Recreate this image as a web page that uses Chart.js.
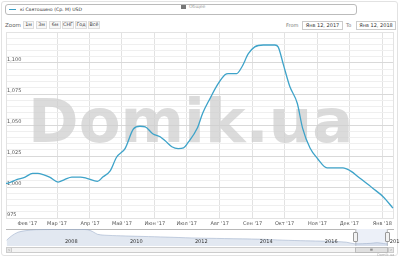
<!DOCTYPE html>
<html>
<head>
<meta charset="utf-8">
<script src="https://cdn.jsdelivr.net/npm/chart.js@4.4.1/dist/chart.umd.min.js"></script>
<style>
  body { margin: 0; width: 400px; height: 258px; overflow: hidden; background: #fff; position: relative; font-family: "DejaVu Sans", sans-serif; color: #333; }
  .abs { position: absolute; box-sizing: border-box; }
  #frame { left: 1px; top: 1px; width: 397px; height: 255px; border: 1px solid #e2e2e2; border-radius: 3px; }
  #legend { left: 5px; top: 4px; width: 352px; height: 11px; border: 1px solid #bbb; border-radius: 3px; font-size: 4.6px; }
  #legend .sym { position: absolute; left: 3px; top: 4px; width: 7px; height: 1.4px; background: #3b9fc6; }
  #legend .t1 { position: absolute; left: 14px; top: 2px; }
  #legend .sq { position: absolute; left: 175px; top: 0px; width: 5px; height: 4px; background: #777; }
  #legend .t2 { position: absolute; left: 183px; top: -1px; color: #999; }
  #zoomlbl { left: 5px; top: 21.5px; font-size: 5.5px; color: #666; }
  .btn { top: 20.5px; height: 8px; font-size: 4.8px; background: #f7f7f7; border: 1px solid #ddd; text-align: center; line-height: 6px; color: #333; }
  .inp { top: 20.5px; height: 9px; font-size: 5px; border: 1px solid #ccc; text-align: center; line-height: 7px; color: #333; }
  .lbl { top: 22px; font-size: 5px; color: #777; }
  #mainWrap { left: 0; top: 28px; width: 400px; height: 202px; }
  #navWrap { left: 0; top: 227px; width: 400px; height: 30px; }
  .handle { width: 5px; height: 10px; background: #f2f2f2; border: 1px solid #999; border-radius: 1px; }
  #track { left: 6px; top: 246.5px; width: 388px; height: 6px; border: 1px solid #ccc; background: #f4f4f4; }
  .arr { top: 246.5px; width: 6px; height: 6px; border: 1px solid #ccc; background: #e6e6e6; font-size: 4px; line-height: 4px; text-align: center; color: #666; }
  #thumb { left: 355px; top: 246.5px; width: 33px; height: 6px; border: 1px solid #bbb; background: #e0e0e0; font-size: 4px; line-height: 4px; text-align: center; color: #777; }
  #credit { left: 377px; top: 253px; font-size: 3.6px; color: #aaa; }
</style>
</head>
<body>
<div id="frame" class="abs"></div>
<div id="legend" class="abs"><div class="sym"></div><div class="t1">кі Святошино (Ср. М) USD</div><div class="sq"></div><div class="t2">Общее</div></div>
<div id="zoomlbl" class="abs">Zoom</div>
<div class="abs btn" style="left:23px;width:11px">1м</div>
<div class="abs btn" style="left:36px;width:11px">3м</div>
<div class="abs btn" style="left:49px;width:12px">6м</div>
<div class="abs btn" style="left:62px;width:12px">СНГ</div>
<div class="abs btn" style="left:75px;width:12px">Год</div>
<div class="abs btn" style="left:88px;width:12px">Всё</div>
<div class="abs lbl" style="left:286px">From</div>
<div class="abs inp" style="left:302px;width:41px">Янв 12, 2017</div>
<div class="abs lbl" style="left:346px">To</div>
<div class="abs inp" style="left:356px;width:40px">Янв 12, 2018</div>
<div id="mainWrap" class="abs"><canvas id="main"></canvas></div>
<div id="track" class="abs"></div>
<div class="abs arr" style="left:6px">‹</div>
<div class="abs arr" style="left:388px">›</div>
<div id="thumb" class="abs">≡</div>
<div id="navWrap" class="abs"><canvas id="nav"></canvas></div>
<div class="abs handle" style="left:353px;top:232px"></div>
<div class="abs handle" style="left:385px;top:232px"></div>
<div id="credit" class="abs">Domik.ua</div>

<script>
// days counted from Jan 12, 2017
const dayNums = [0, 1, 10, 18, 25, 30, 35, 41, 49, 55, 62, 70, 76, 86, 91, 98, 104, 112, 120, 126, 131, 138, 145, 150, 156, 162, 167, 171, 180, 185, 192, 199, 206, 209, 217, 222, 228, 234, 242, 253, 256, 261, 267, 274, 279, 286, 293, 302, 311, 317, 324, 333, 345, 355, 364];
const prices = [1003, 1003, 1006, 1008, 1011, 1011, 1010, 1008, 1004, 1006, 1008, 1008, 1007, 1004.5, 1008, 1013, 1024, 1031, 1047, 1049, 1048.5, 1043, 1040.5, 1037, 1032.5, 1031, 1031.5, 1035.5, 1047.5, 1059.5, 1071.5, 1082.5, 1090.5, 1091.5, 1091.5, 1097, 1107.5, 1113, 1114.5, 1114.5, 1113, 1098.5, 1081, 1067.5, 1047.5, 1031.5, 1023, 1015.5, 1015.5, 1015.5, 1013, 1007, 999, 992, 983];

const monthDays = [20, 48, 79, 109, 140, 170, 201, 232, 262, 293, 323, 354];
const monthLabels = ["Фев '17", "Мар '17", "Апр '17", "Май '17", "Июн '17", "Июл '17", "Авг '17", "Сен '17", "Окт '17", "Ноя '17", "Дек '17", "Янв '18"];

// navigator: whole history
const navYears = [2006.3, 2006.45, 2006.65, 2006.9, 2007.15, 2007.6, 2008.0, 2008.4, 2008.8, 2008.95, 2009.1, 2009.3, 2009.8, 2010.5, 2011.2, 2012.0, 2013.0, 2014.1, 2014.8, 2015.5, 2016.1, 2016.75, 2017.0, 2017.5, 2017.7, 2017.9, 2018.03];
const navValues = [1350, 1750, 2100, 2250, 2330, 2350, 2360, 2350, 2330, 2150, 1900, 1820, 1760, 1700, 1640, 1560, 1500, 1440, 1350, 1290, 1250, 1160, 1010, 1050, 1110, 1030, 985];
const navTicks = [2008, 2010, 2012, 2014, 2016, 2018];

const FONT = '"DejaVu Sans", sans-serif';

const watermark = {
  id: 'watermark',
  beforeDatasetsDraw(chart) {
    const ctx = chart.ctx;
    ctx.save();
    ctx.font = 'bold 61px ' + FONT;
    ctx.fillStyle = 'rgba(205,205,205,0.72)';
    ctx.textBaseline = 'alphabetic';
    ctx.fillText('Domik.ua', 28, 114);
    ctx.restore();
  }
};

const frameLines = {
  id: 'frameLines',
  beforeDatasetsDraw(chart) {
    const a = chart.chartArea, ctx = chart.ctx;
    ctx.save();
    ctx.strokeStyle = '#e3e3e3';
    ctx.lineWidth = 1;
    ctx.strokeRect(a.left + 0.5, a.top + 0.5, a.right - a.left - 1, a.bottom - a.top);
    ctx.restore();
  }
};

new Chart(document.getElementById('main'), {
  type: 'line',
  data: {
    datasets: [{
      data: dayNums.map((d, i) => ({ x: d, y: prices[i] })),
      borderColor: '#3ea3c9',
      borderWidth: 1.3,
      pointRadius: 0,
      cubicInterpolationMode: 'monotone',
      fill: false
    }]
  },
  options: {
    responsive: true,
    maintainAspectRatio: false,
    animation: false,
    layout: { padding: { left: 6, right: 6, top: 2, bottom: 0 } },
    plugins: { legend: { display: false }, tooltip: { enabled: false } },
    scales: {
      x: {
        type: 'linear', min: 0, max: 365,
        afterBuildTicks: s => { s.ticks = monthDays.map(v => ({ value: v })); },
        afterFit: s => { s.height = 12; },
        border: { display: false },
        grid: { drawTicks: false, color: c => c.index === 0 ? 'rgba(0,0,0,0)' : '#e2e2e2', lineWidth: 1 },
        ticks: {
          padding: 3, maxRotation: 0, autoSkip: false,
          font: { size: 5, family: FONT }, color: '#555',
          callback: v => monthLabels[monthDays.indexOf(v)]
        }
      },
      y: {
        min: 975, max: 1125,
        afterFit: s => { s.width = 0; },
        border: { display: false },
        grid: { drawTicks: false, color: c => (c.tick.value % 25 === 0) ? '#d9d9d9' : '#efefef', lineWidth: 1 },
        ticks: {
          stepSize: 5, mirror: true, padding: 1, labelOffset: -3, autoSkip: false,
          font: { size: 5, family: FONT }, color: '#555',
          callback: v => (v % 25 === 0 && v <= 1100) ? v.toLocaleString('en-US') : ''
        }
      }
    }
  },
  plugins: [frameLines, watermark]
});

const navMask = {
  id: 'navMask',
  beforeDatasetsDraw(chart) {
    const a = chart.chartArea, ctx = chart.ctx, xs = chart.scales.x;
    const l = xs.getPixelForValue(2017.03), r = xs.getPixelForValue(2018.03);
    ctx.save();
    ctx.fillStyle = 'rgba(102,133,194,0.12)';
    ctx.fillRect(l, a.top, r - l, a.bottom - a.top);
    ctx.strokeStyle = '#b8b8b8';
    ctx.lineWidth = 1;
    ctx.beginPath();
    ctx.moveTo(a.left, a.top + 0.5); ctx.lineTo(l, a.top + 0.5);
    ctx.moveTo(l + 0.5, a.top); ctx.lineTo(l + 0.5, a.bottom);
    ctx.moveTo(r - 0.5, a.top); ctx.lineTo(r - 0.5, a.bottom);
    ctx.moveTo(r, a.top + 0.5); ctx.lineTo(a.right, a.top + 0.5);
    ctx.stroke();
    ctx.restore();
  },
  // year labels sit inside the navigator, just right of each tick
  afterDatasetsDraw(chart) {
    const ctx = chart.ctx, xs = chart.scales.x, a = chart.chartArea;
    ctx.save();
    ctx.font = '5px ' + FONT;
    ctx.fillStyle = '#333';
    ctx.textAlign = 'left';
    ctx.textBaseline = 'middle';
    xs.ticks.forEach(t => ctx.fillText(String(t.value), xs.getPixelForValue(t.value) + 3, a.bottom - 4));
    ctx.restore();
  }
};

new Chart(document.getElementById('nav'), {
  type: 'line',
  data: {
    datasets: [{
      data: navYears.map((y, i) => ({ x: y, y: navValues[i] })),
      borderColor: 'rgba(150,170,200,0.9)',
      borderWidth: 0.6,
      backgroundColor: 'rgba(190,204,224,0.45)',
      fill: 'origin',
      pointRadius: 0,
      tension: 0.3
    }]
  },
  options: {
    responsive: true,
    maintainAspectRatio: false,
    animation: false,
    layout: { padding: { left: 6, right: 6, top: 2, bottom: 0 } },
    plugins: { legend: { display: false }, tooltip: { enabled: false } },
    scales: {
      x: {
        type: 'linear', min: 2006.28, max: 2018.22,
        afterBuildTicks: s => { s.ticks = navTicks.map(v => ({ value: v })); },
        afterFit: s => { s.height = 11; },
        border: { display: false },
        grid: { display: false },
        ticks: { display: false }
      },
      y: { display: false, min: 800, max: 2400 }
    }
  },
  plugins: [navMask]
});
</script>
</body>
</html>
